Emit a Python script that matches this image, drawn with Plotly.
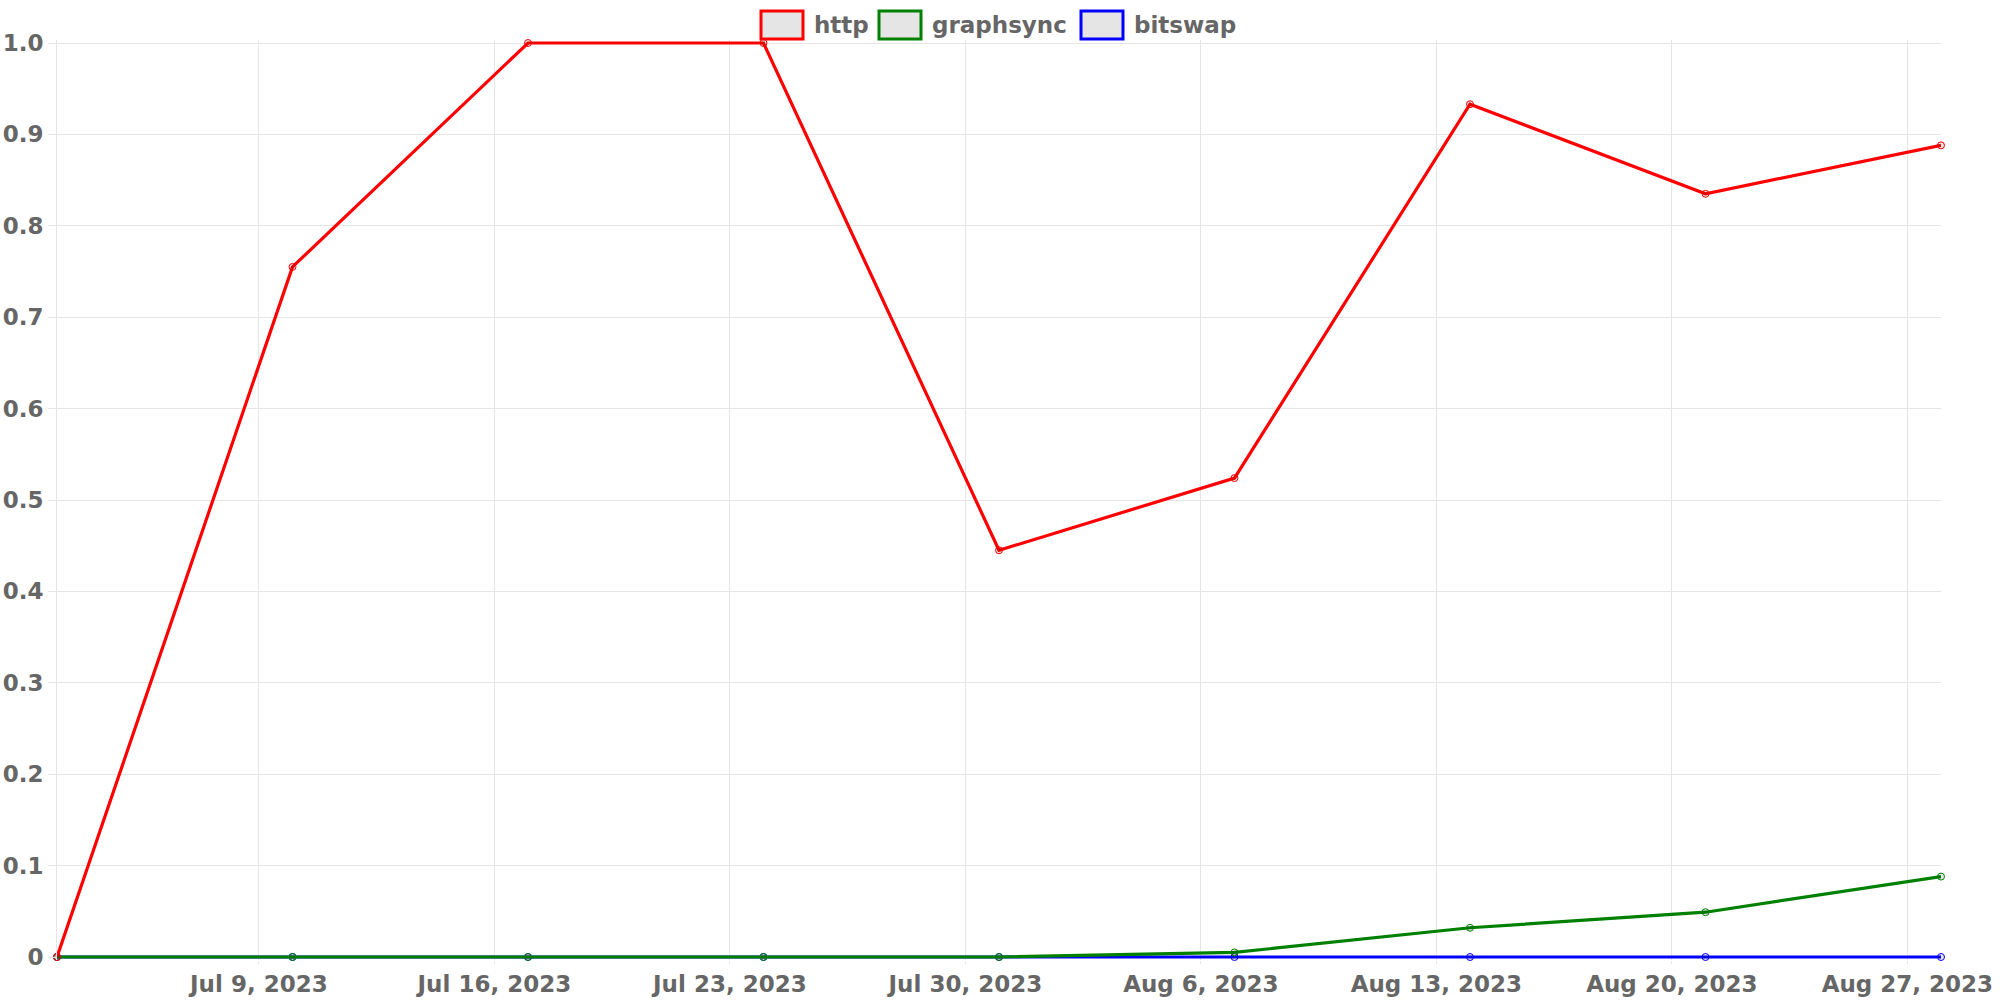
import plotly.graph_objects as go

dates = ["2023-07-03", "2023-07-10", "2023-07-17", "2023-07-24", "2023-07-31",
         "2023-08-07", "2023-08-14", "2023-08-21", "2023-08-28"]
http = [0.0, 0.755, 1.0, 1.0, 0.445, 0.524, 0.933, 0.835, 0.888]
graphsync = [0.0, 0.0, 0.0, 0.0, 0.0, 0.005, 0.032, 0.049, 0.088]
bitswap = [0.0, 0.0, 0.0, 0.0, 0.0, 0.0, 0.0, 0.0, 0.0]

y_ticks = [0, 0.1, 0.2, 0.3, 0.4, 0.5, 0.6, 0.7, 0.8, 0.9, 1.0]
y_ticktext = ["0", "0.1", "0.2", "0.3", "0.4", "0.5", "0.6", "0.7", "0.8", "0.9", "1.0"]

series = [("bitswap", bitswap, "blue"), ("graphsync", graphsync, "green"), ("http", http, "red")]
legend_order = [("http", "red"), ("graphsync", "green"), ("bitswap", "blue")]

FONT = "DejaVu Sans"
GRAY = "#666666"
GRID = "#e5e5e5"

FIG_W, FIG_H = 2000, 1000

fig = go.Figure()
for name, vals, col in series:
    fig.add_trace(go.Scatter(
        x=dates, y=vals, name=name, mode="lines+markers",
        line=dict(color=col, width=3.2),
        marker=dict(size=7, color="rgba(0,0,0,0.1)", line=dict(color=col, width=1)),
        cliponaxis=False, showlegend=False,
    ))

# value area in page pixels (0 at B, 1 at T); plot area padded so lines at 0/1 are not clipped
L, R, T, B = 57, 1941, 43, 957
PAD = 3
W, H = R - L, B - T
ypad = PAD / H

def px(x):
    return (x - L) / W

def py(y):
    return (B + PAD - y) / (H + 2 * PAD)

box_x = [761, 879, 1081]
box_w = 42
shapes = []
annotations = []
for (name, col), bx in zip(legend_order, box_x):
    shapes.append(dict(type="rect", xref="paper", yref="paper",
                       x0=px(bx), x1=px(bx + box_w), y0=py(39), y1=py(11),
                       fillcolor="rgba(0,0,0,0.1)", line=dict(color=col, width=3)))
    annotations.append(dict(xref="paper", yref="paper", x=px(bx + box_w + 9), y=py(25),
                            xanchor="left", yanchor="middle", showarrow=False,
                            text="<b>%s</b>" % name,
                            font=dict(family=FONT, size=23, color=GRAY)))

fig.update_layout(
    width=FIG_W, height=FIG_H,
    margin=dict(l=L, r=FIG_W - R, t=T - PAD, b=FIG_H - B - PAD, autoexpand=False),
    plot_bgcolor="white", paper_bgcolor="white",
    shapes=shapes, annotations=annotations,
    showlegend=False,
    font=dict(family=FONT, size=23, color=GRAY),
    xaxis=dict(
        type="date", range=["2023-07-03", "2023-08-28"],
        tick0="2023-07-09", dtick=7 * 86400000, tickformat="<b>%b %-d, %Y</b>",
        showgrid=True, gridcolor=GRID, gridwidth=1,
        ticks="outside", ticklen=3, tickcolor=GRID,
        showline=False,
        zeroline=False, automargin=False,
        tickfont=dict(family=FONT, size=23, color=GRAY),
    ),
    yaxis=dict(
        range=[-ypad, 1 + ypad], tickmode="array", tickvals=y_ticks,
        ticktext=["<b>%s</b>" % t for t in y_ticktext],
        showgrid=True, gridcolor=GRID, gridwidth=1,
        ticks="outside", ticklen=8, tickcolor=GRID,
        showline=True, linecolor=GRID, linewidth=1,
        zeroline=False, automargin=False,
        tickfont=dict(family=FONT, size=23, color=GRAY),
    ),
)

fig.write_html(
    "out.html",
    config={"displayModeBar": False},
    post_script="document.body.style.margin='0';document.body.style.overflow='hidden';",
)
